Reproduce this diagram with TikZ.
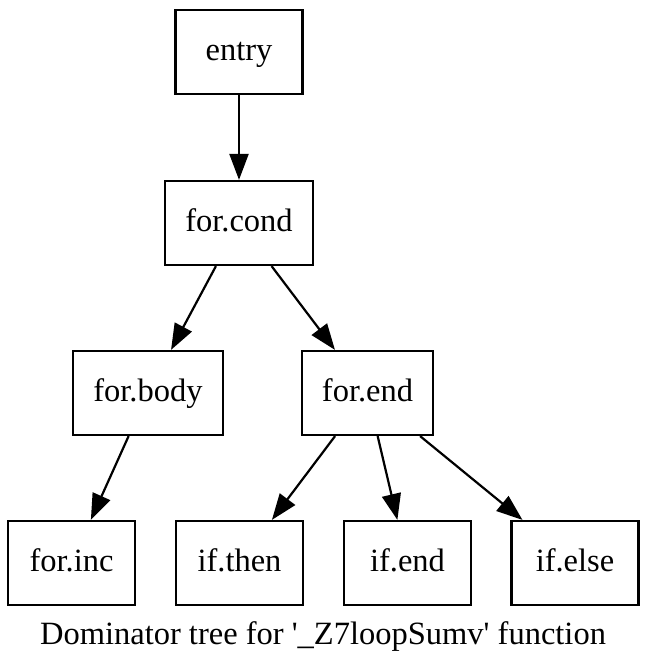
\documentclass[tikz,border=0pt]{standalone}
\usepackage{fontspec}
\setmainfont{Liberation Serif}
\usetikzlibrary{arrows.meta}

\begin{document}
\begin{tikzpicture}[x=1pt,y=1pt,
    block/.style={draw,line width=2.2pt,minimum width=127pt,minimum height=84pt,
                  inner xsep=20pt,text height=22pt,text depth=4pt,
                  font=\fontsize{32.5}{39}\selectfont},
    edge/.style={line width=2.2pt,-{Triangle[length=26pt,width=19pt]}}]
  \useasboundingbox (0,0) rectangle (646,668);
  % tree nodes
  \node[block] (entry)   at (239,616) {entry};
  \node[block] (forcond) at (239,445) {for.cond};
  \node[block] (forbody) at (148,275) {for.body};
  \node[block] (forend)  at (367.5,275) {for.end};
  \node[block] (forinc)  at (71.5,105) {for.inc};
  \node[block] (ifthen)  at (239.5,105) {if.then};
  \node[block] (ifend)   at (407.5,105) {if.end};
  \node[block] (ifelse)  at (575,105) {if.else};
  % dominator edges
  \draw[edge] (entry) -- (forcond);
  \draw[edge] (forcond) -- (forbody);
  \draw[edge] (forcond) -- (forend);
  \draw[edge] (forbody) -- (forinc);
  \draw[edge] (forend) -- (ifthen);
  \draw[edge] (forend) -- (ifend);
  \draw[edge] (forend) -- (ifelse);
  \node[anchor=base,font=\fontsize{32.5}{39}\selectfont] (caption) at (323,23)
        {Dominator tree for \textquotesingle\_Z7loopSumv\textquotesingle{} function};
\end{tikzpicture}
\end{document}
